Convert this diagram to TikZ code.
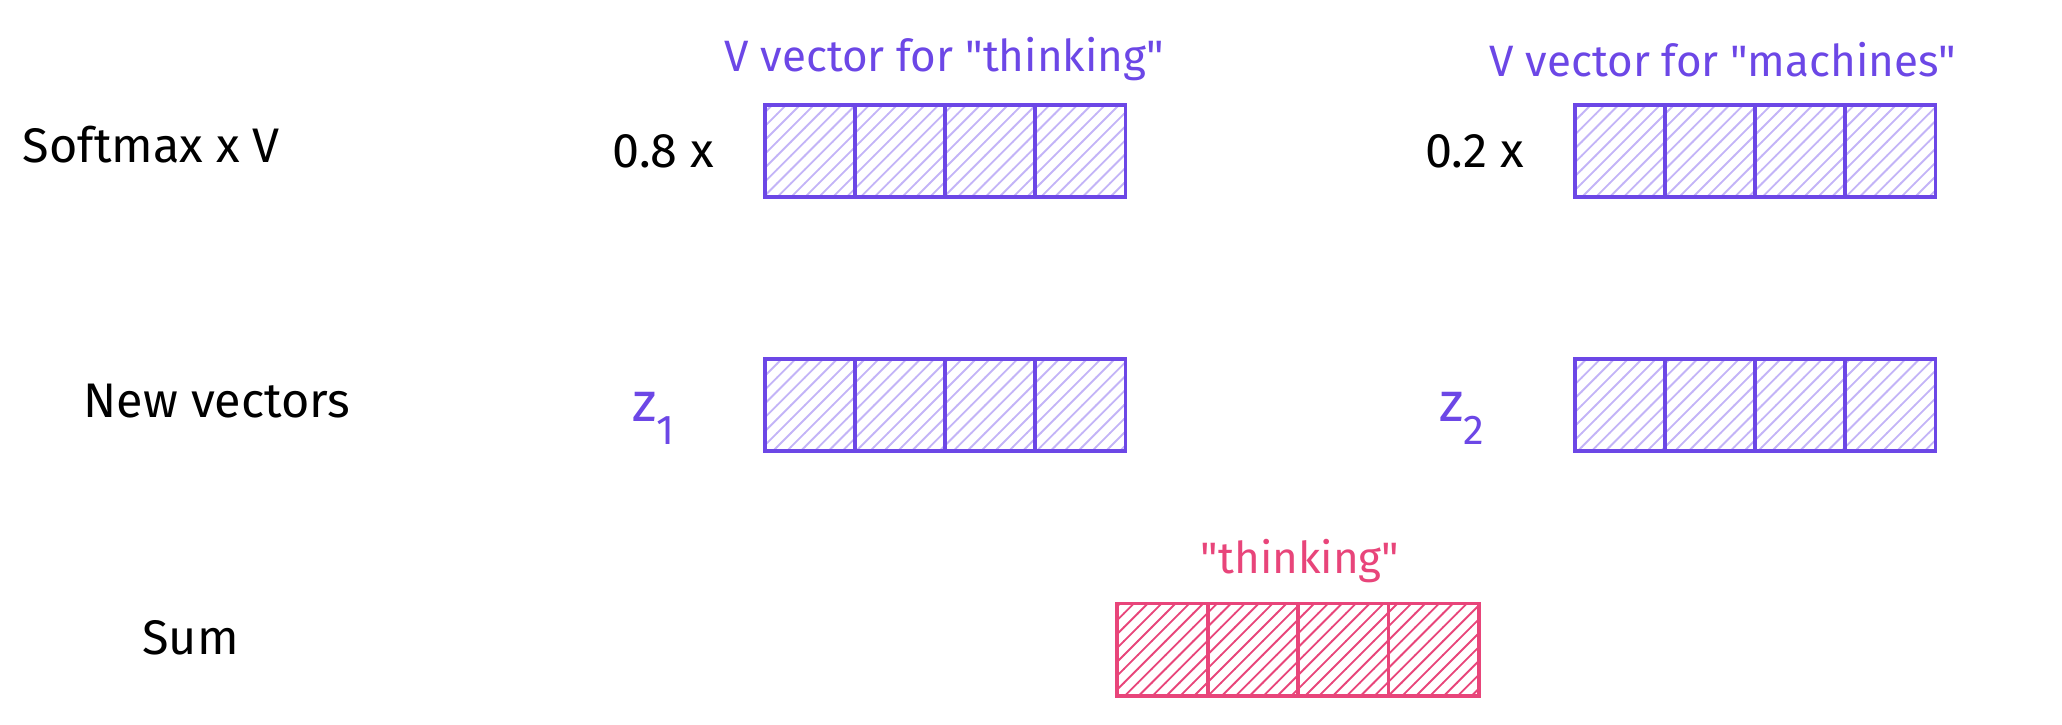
\documentclass[tikz,border=0pt]{standalone}
\usepackage{fontspec}
\setmainfont{Fira Sans}[Ligatures=TeXOff]
\usetikzlibrary{positioning, patterns}
\definecolor{vpurple}{HTML}{6C47E6}
\definecolor{vlight}{HTML}{C3B4F7}
\definecolor{spink}{HTML}{E8457A}
\newcommand{\qt}[1]{"#1"}

\begin{document}
\begin{tikzpicture}[x=0.01cm, y=0.01cm, cell/.style={draw=vpurple, thick, pattern=north east lines, pattern color=vlight, minimum width=0.685cm, minimum height=0.7cm, inner sep=0pt}, scell/.style={draw=spink, thick, pattern=north east lines, pattern color=spink, minimum width=0.6875cm, minimum height=0.7cm, inner sep=0pt}, lbl/.style={font=\fontsize{10.5}{12}\selectfont}, vlbl/.style={font=\fontsize{9.5}{11}\selectfont, text=vpurple}]
    \useasboundingbox (0,0) rectangle (1568,551);

    %Row labels
    \node[lbl](softmax) at (115,441){Softmax x V};
    \node[lbl](newvec) at (165,246){New vectors};
    \node[lbl](sum) at (145,66){Sum};

    %Vectors
    \foreach \i in {0,...,3} {
        \node[cell](a\i) at (616+\i*68.5,436){};
        \node[cell](b\i) at (1232+\i*68.5,436){};
        \node[cell](c\i) at (616+\i*68.5,243){};
        \node[cell](d\i) at (1232+\i*68.5,243){};
        \node[scell](s\i) at (884+\i*68.75,57){};
    }

    %Labels
    \node[lbl](w1)[left=0.25cm of a0]{0.8 x};
    \node[lbl](w2)[left=0.25cm of b0]{0.2 x};
    \node[vlbl, font=\fontsize{12}{14}\selectfont](z1)[left=0.55cm of c0, yshift=-0.1cm]{z\raisebox{-0.8ex}{\fontsize{9}{10}\selectfont 1}};
    \node[vlbl, font=\fontsize{12}{14}\selectfont](z2)[left=0.55cm of d0, yshift=-0.1cm]{z\raisebox{-0.8ex}{\fontsize{9}{10}\selectfont 2}};
    \node[vlbl](vt) at (718,506){V vector for \qt{thinking}};
    \node[vlbl](vm) at (1310,506){V vector for \qt{machines}};
    \node[vlbl, text=spink](st)[above=0.02cm of s1.north east]{\qt{thinking}};
\end{tikzpicture}
\end{document}
